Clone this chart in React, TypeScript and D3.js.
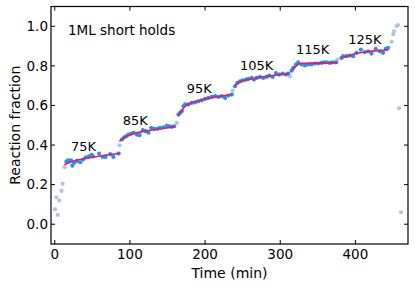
import React from 'react';
import * as d3 from 'd3';

// transient points (between holds, start and end of ramp)
const greyTime = [0.4, 2, 4, 6, 9, 10.5, 13, 86.2, 162.4, 236.7, 313, 376, 448.3, 450.4, 451.4, 454.6, 456.7, 458, 460.7];
const greyFrac = [0.076, 0.136, 0.047, 0.12, 0.168, 0.204, 0.288, 0.399, 0.512, 0.675, 0.748, 0.832, 0.922, 0.96, 0.975, 1.001, 1.006, 0.586, 0.06];

// hold data points
const holdTime = [
  15.4, 17.6, 19.4, 21.6, 23.4, 25.6, 29.6, 34, 37.6, 41, 45, 49, 50.8, 59, 64, 67.6, 73.8, 78, 85,
  89.4, 92.4, 95, 98.2, 101.7, 104.8, 109.3, 112.8, 117.2, 121.2, 124.7, 128.3, 132.3, 136.7, 140.2, 144.6, 149.1, 152.6, 155.8, 158.8,
  164.6, 166.8, 169, 171.2, 173.4, 177.8, 182.3, 186.7, 191.1, 195.6, 200, 204.4, 208.9, 213.3, 217.7, 222.2, 226.6, 231, 235.5,
  239.8, 242.9, 246.5, 250, 254.5, 257.5, 262, 265, 268.7, 273, 277.4, 281.9, 285.4, 289.9, 294.3, 298.7, 303.2, 307.6, 310.6,
  315.1, 317.3, 320.9, 323.9, 328.4, 332.8, 337.2, 341.7, 346.1, 350.5, 355, 358, 361.6, 366, 369.6, 374,
  381.5, 383.7, 388.2, 392.6, 397, 401.5, 407.2, 412.5, 416.9, 421.4, 427.1, 432.4, 436.8, 440.4, 443.5,
];
const holdFrac = [
  0.315, 0.323, 0.317, 0.323, 0.296, 0.31, 0.32, 0.313, 0.327, 0.337, 0.343, 0.35, 0.343, 0.357, 0.34, 0.34, 0.354, 0.34, 0.357,
  0.428, 0.439, 0.444, 0.453, 0.457, 0.462, 0.453, 0.45, 0.475, 0.47, 0.462, 0.487, 0.482, 0.482, 0.487, 0.49, 0.498, 0.495, 0.492, 0.495,
  0.554, 0.563, 0.571, 0.596, 0.605, 0.605, 0.613, 0.616, 0.621, 0.626, 0.633, 0.638, 0.643, 0.647, 0.643, 0.647, 0.638, 0.65, 0.655,
  0.697, 0.714, 0.722, 0.727, 0.731, 0.734, 0.739, 0.731, 0.739, 0.744, 0.739, 0.744, 0.751, 0.744, 0.764, 0.756, 0.761, 0.756, 0.761,
  0.776, 0.79, 0.807, 0.818, 0.807, 0.802, 0.807, 0.807, 0.812, 0.812, 0.815, 0.818, 0.818, 0.815, 0.818, 0.818,
  0.84, 0.849, 0.849, 0.852, 0.849, 0.866, 0.882, 0.869, 0.874, 0.862, 0.886, 0.874, 0.866, 0.886, 0.891,
];

// fitted curves, one per hold
const fitTime = [
  [13, 20, 30, 47, 65, 86],
  [86, 95, 105, 120, 140, 160],
  [164.6, 170, 175, 185, 200, 215, 235],
  [239.8, 245, 255, 270, 290, 312],
  [316, 320, 325, 330, 350, 377],
  [381, 390, 400, 415, 430, 444],
];
const fitFrac = [
  [0.3, 0.313, 0.324, 0.336, 0.347, 0.357],
  [0.419, 0.443, 0.458, 0.47, 0.481, 0.493],
  [0.549, 0.58, 0.6, 0.617, 0.632, 0.643, 0.655],
  [0.7, 0.716, 0.729, 0.74, 0.751, 0.761],
  [0.778, 0.795, 0.81, 0.813, 0.814, 0.816],
  [0.84, 0.85, 0.861, 0.871, 0.877, 0.88],
];

const holdLabels = ['75K', '85K', '95K', '105K', '115K', '125K'];
const labelTime = [21.5, 90.5, 175.5, 246.5, 321, 390.5];
const labelFrac = [0.368, 0.5, 0.663, 0.78, 0.862, 0.911];

const xTicks = [0, 100, 200, 300, 400];
const yTicks = [0.0, 0.2, 0.4, 0.6, 0.8, 1.0];

const W = 415;
const H = 289;
const left = 51;
const right = 408;
const top = 6.5;
const bottom = 244;
const font = "'DejaVu Sans', sans-serif";

export default function App() {
  const x = d3.scaleLinear().domain([-5, 470]).range([left, right]);
  const y = d3.scaleLinear().domain([-0.1, 1.1]).range([bottom, top]);
  const line = d3.line<[number, number]>()
    .x(d => x(d[0]))
    .y(d => y(d[1]))
    .curve(d3.curveMonotoneX);
  const tick = 4;

  return (
    <svg width={W} height={H} style={{ position: 'absolute', left: 0, top: 0, background: '#fff' }}>
      <rect x={0} y={0} width={W} height={H} fill="#fff" />
      {greyTime.map((t, i) => (
        <circle key={'g' + i} cx={x(t)} cy={y(greyFrac[i])} r={2.1} fill="#b0c4de" />
      ))}
      {holdTime.map((t, i) => (
        <circle key={'b' + i} cx={x(t)} cy={y(holdFrac[i])} r={2.1} fill="#2b8cf2" />
      ))}
      {fitTime.map((ts, k) => (
        <path
          key={'f' + k}
          d={line(ts.map((t, i) => [t, fitFrac[k][i]] as [number, number])) || ''}
          fill="none"
          stroke="#d3217a"
          strokeWidth={1.6}
        />
      ))}
      {holdLabels.map((s, i) => (
        <text key={'l' + i} x={x(labelTime[i])} y={y(labelFrac[i])} fontFamily={font} fontSize={13} fill="#000">
          {s}
        </text>
      ))}
      <text x={68} y={34.5} fontFamily={font} fontSize={13.5} fill="#000">1ML short holds</text>

      {/* frame */}
      <rect x={left} y={top} width={right - left} height={bottom - top} fill="none" stroke="#000" strokeWidth={1.2} />

      {xTicks.map(t => (
        <g key={'xt' + t}>
          <line x1={x(t)} x2={x(t)} y1={bottom} y2={bottom - tick} stroke="#000" />
          <line x1={x(t)} x2={x(t)} y1={top} y2={top + tick} stroke="#000" />
          <text x={x(t)} y={259} textAnchor="middle" fontFamily={font} fontSize={13.5}>{t}</text>
        </g>
      ))}
      {yTicks.map(v => (
        <g key={'yt' + v}>
          <line x1={left} x2={left + tick} y1={y(v)} y2={y(v)} stroke="#000" />
          <line x1={right} x2={right - tick} y1={y(v)} y2={y(v)} stroke="#000" />
          <text x={left - 3} y={y(v)} dy="0.36em" textAnchor="end" fontFamily={font} fontSize={13.5}>
            {v.toFixed(1)}
          </text>
        </g>
      ))}
      <text x={(left + right) / 2} y={277.5} textAnchor="middle" fontFamily={font} fontSize={14}>Time (min)</text>
      <text
        transform={`translate(20,${(top + bottom) / 2}) rotate(-90)`}
        textAnchor="middle"
        fontFamily={font}
        fontSize={14}
      >
        Reaction fraction
      </text>
    </svg>
  );
}
